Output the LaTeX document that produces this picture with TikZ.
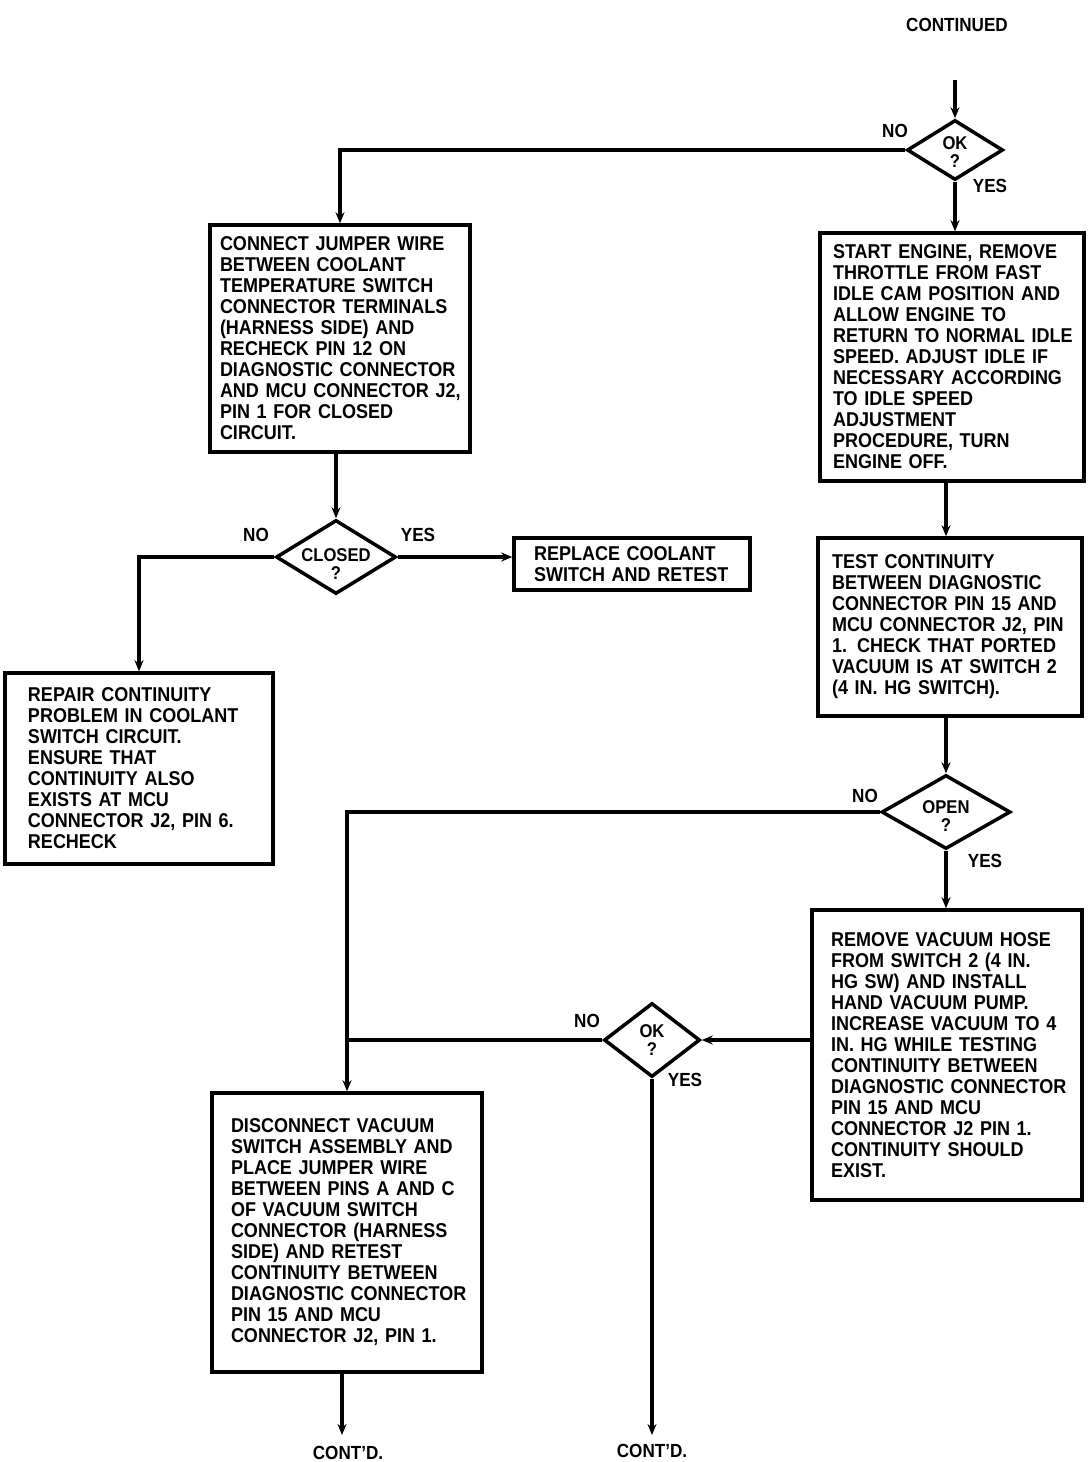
\documentclass[tikz,border=0pt]{standalone}
\usepackage{fontspec}
\setmainfont{Liberation Sans}[FakeStretch=0.9]
\usetikzlibrary{shapes.geometric,arrows.meta}
\newcommand\boxfont{\bfseries\fontsize{20}{21}\selectfont}
\newcommand\labfont{\bfseries\fontsize{19}{20}\selectfont}
\newcommand\diafont{\bfseries\fontsize{18.5}{18}\selectfont}
\tikzset{
  box/.style={draw, line width=3.5pt, inner sep=0pt, align=left, font=\boxfont},
  dia/.style={draw, diamond, line width=3.5pt, inner sep=0pt},
  arr/.style={line width=3.5pt, -{Stealth[length=11pt,width=9pt]}},
  plain/.style={line width=3.5pt},
  lab/.style={font=\labfont, inner sep=0pt},
  dlab/.style={font=\diafont, inner sep=0pt, align=center}
}
\begin{document}
\begin{tikzpicture}[x=1pt,y=-1pt]
\useasboundingbox (0,0) rectangle (1088,1462);
\fill[white] (0,0) rectangle (1088,1462);

% title
\node[lab] (cont) at (957,25) {CONTINUED};
\coordinate (top) at (955,80);

% decisions
\node[dia, minimum width=96pt, minimum height=60pt,
  label={[dlab, yshift=-2pt]center:OK\\?}] (ok1) at (955,150) {};
\node[dia, minimum width=120pt, minimum height=74pt,
  label={[dlab, yshift=-7pt]center:CLOSED\\?}] (closed) at (336,557) {};
\node[dia, minimum width=129pt, minimum height=74pt,
  label={[dlab, yshift=-4pt]center:OPEN\\?}] (open) at (946,812) {};
\node[dia, minimum width=96pt, minimum height=74pt,
  label={[dlab]center:OK\\?}] (ok2) at (652,1040) {};

% boxes
\node[box, text width=260pt, minimum height=227pt] (b1) at (340,338.5) {\leftskip=10pt
CONNECT JUMPER WIRE\\
BETWEEN COOLANT\\
TEMPERATURE SWITCH\\
CONNECTOR TERMINALS\\
(HARNESS SIDE) AND\\
RECHECK PIN 12 ON\\
DIAGNOSTIC CONNECTOR\\
AND MCU CONNECTOR J2,\\
PIN 1 FOR CLOSED\\
CIRCUIT.\par};

\node[box, text width=236pt, minimum height=52pt] (replace) at (632,564) {\leftskip=20pt
REPLACE COOLANT\\
SWITCH AND RETEST\par};

\node[box, text width=268pt, minimum height=191pt] (repair) at (139,768.5) {\leftskip=23pt
REPAIR CONTINUITY\\
PROBLEM IN COOLANT\\
SWITCH CIRCUIT.\\
ENSURE THAT\\
CONTINUITY ALSO\\
EXISTS AT MCU\\
CONNECTOR J2, PIN 6.\\
RECHECK\par};

\node[box, text width=264pt, minimum height=248pt] (start) at (952,357) {\leftskip=13pt
START ENGINE, REMOVE\\
THROTTLE FROM FAST\\
IDLE CAM POSITION AND\\
ALLOW ENGINE TO\\
RETURN TO NORMAL IDLE\\
SPEED. ADJUST IDLE IF\\
NECESSARY ACCORDING\\
TO IDLE SPEED\\
ADJUSTMENT\\
PROCEDURE, TURN\\
ENGINE OFF.\par};

\node[box, text width=264pt, minimum height=178pt] (test) at (950,627) {\leftskip=14pt
TEST CONTINUITY\\
BETWEEN DIAGNOSTIC\\
CONNECTOR PIN 15 AND\\
MCU CONNECTOR J2, PIN\\
1. CHECK THAT PORTED\\
VACUUM IS AT SWITCH 2\\
(4 IN. HG SWITCH).\par};

\node[box, text width=270pt, minimum height=290pt] (remove) at (947,1055) {\leftskip=19pt
REMOVE VACUUM HOSE\\
FROM SWITCH 2 (4 IN.\\
HG SW) AND INSTALL\\
HAND VACUUM PUMP.\\
INCREASE VACUUM TO 4\\
IN. HG WHILE TESTING\\
CONTINUITY BETWEEN\\
DIAGNOSTIC CONNECTOR\\
PIN 15 AND MCU\\
CONNECTOR J2 PIN 1.\\
CONTINUITY SHOULD\\
EXIST.\par};

\node[box, text width=270pt, minimum height=279pt] (disc) at (347,1232.5) {\leftskip=19pt
DISCONNECT VACUUM\\
SWITCH ASSEMBLY AND\\
PLACE JUMPER WIRE\\
BETWEEN PINS A AND C\\
OF VACUUM SWITCH\\
CONNECTOR (HARNESS\\
SIDE) AND RETEST\\
CONTINUITY BETWEEN\\
DIAGNOSTIC CONNECTOR\\
PIN 15 AND MCU\\
CONNECTOR J2, PIN 1.\par};

% continuation ends
\coordinate (endL) at (342,1435);
\coordinate (endR) at (652,1435);
\node[lab] (contL) at (348,1453) {CONT'D.};
\node[lab] (contR) at (652,1451) {CONT'D.};

% connector labels
\node[lab] (n1) at (895,131) {NO};
\node[lab] (y1) at (990,186) {YES};
\node[lab] (n2) at (256,535) {NO};
\node[lab] (y2) at (418,535) {YES};
\node[lab] (n3) at (865,796) {NO};
\node[lab] (y3) at (985,861) {YES};
\node[lab] (n4) at (587,1021) {NO};
\node[lab] (y4) at (685,1080) {YES};

% connectors
\draw[arr] (top) -- (ok1.north);
\draw[arr] (ok1.west) -| (b1.north);
\draw[arr] (ok1.south) -- (ok1.south |- start.north);
\draw[arr] (closed.north |- b1.south) -- (closed.north);
\draw[arr] (closed.east) -- (closed.east -| replace.west);
\draw[arr] (closed.west) -| (repair.north);
\draw[arr] (open.north |- start.south) -- (open.north |- test.north);
\draw[arr] (open.north |- test.south) -- (open.north);
\draw[arr] (open.west) -| (disc.north);
\draw[arr] (open.south) -- (open.south |- remove.north);
\draw[arr] (ok2.east -| remove.west) -- (ok2.east);
\draw[plain] (ok2.west) -- (ok2.west -| disc.north);
\draw[arr] (ok2.south) -- (endR);
\draw[arr] (disc.south -| endL) -- (endL);
\end{tikzpicture}
\end{document}
